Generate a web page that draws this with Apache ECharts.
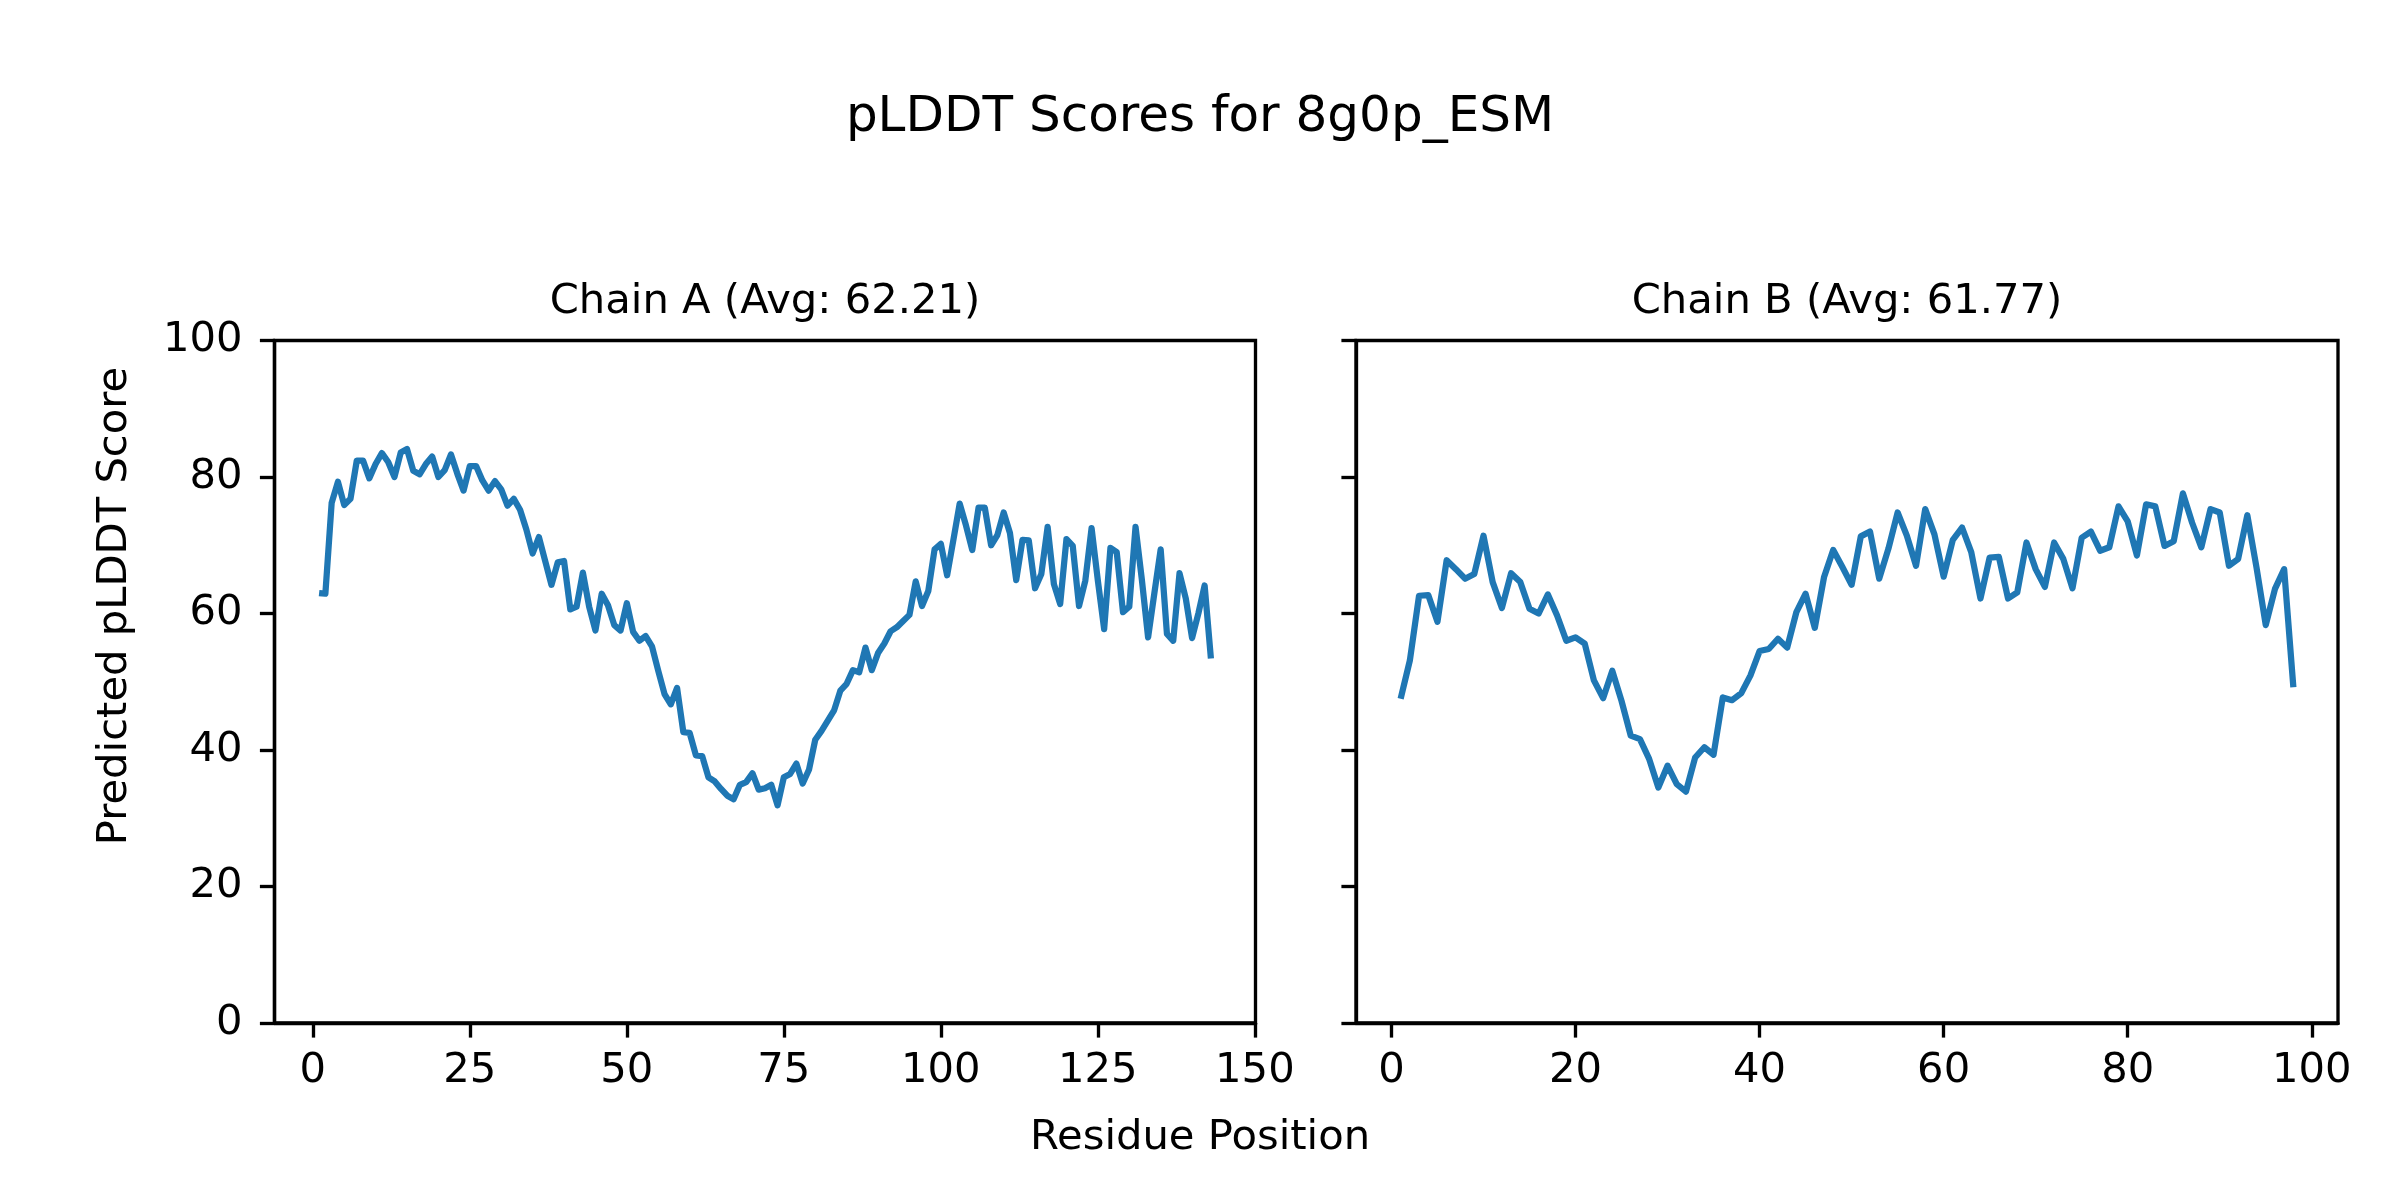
<!DOCTYPE html>
<html>
<head>
<meta charset="utf-8">
<script src="https://cdn.jsdelivr.net/npm/echarts@6/dist/echarts.min.js"></script>
<style>
html,body{margin:0;padding:0;background:#fff;}
#chart{width:2400px;height:1200px;}
</style>
</head>
<body>
<div id="chart"></div>
<script>
// ---- data ----
const chainAScores = [63.0,62.9,76.2,79.3,75.9,76.8,82.4,82.4,79.8,81.9,
 83.5,82.2,80.0,83.6,84.1,80.9,80.4,81.9,83.0,80.0,
 81.0,83.3,80.5,78.0,81.6,81.6,79.5,78.0,79.4,78.2,
 75.8,76.8,75.2,72.3,68.8,71.2,67.7,64.2,67.5,67.7,
 60.6,61.0,66.0,61.0,57.5,62.9,61.2,58.3,57.5,61.5,
 57.3,56.0,56.7,55.2,51.6,48.2,46.7,49.1,42.6,42.5,
 39.2,39.1,36.0,35.4,34.3,33.3,32.8,34.9,35.3,36.6,
 34.2,34.4,34.9,31.9,36.0,36.5,38.0,35.1,37.1,41.5,
 42.8,44.3,45.8,48.7,49.7,51.7,51.4,55.0,51.7,54.2,
 55.6,57.4,58.0,58.9,59.8,64.7,61.1,63.3,69.4,70.2,
 65.6,70.8,76.1,72.9,69.3,75.5,75.5,70.0,71.5,74.8,
 71.8,64.9,70.8,70.7,63.7,65.8,72.7,64.3,61.4,70.9,
 69.9,61.1,64.8,72.5,64.8,57.7,69.6,69.0,60.2,61.0,
 72.7,65.0,56.5,63.0,69.4,57.0,56.0,65.9,62.2,56.4,
 60.0,64.1,53.4];
const chainBScores = [47.5,53.1,62.6,62.7,58.8,67.8,66.5,65.1,65.8,71.4,
 64.6,60.8,65.9,64.6,60.7,60.0,62.8,59.7,56.0,56.5,
 55.6,50.2,47.6,51.6,47.2,42.1,41.6,38.7,34.5,37.7,
 35.0,33.9,38.9,40.4,39.3,47.7,47.3,48.3,50.9,54.5,
 54.8,56.3,55.0,60.2,62.9,57.9,65.3,69.3,66.8,64.2,
 71.3,72.0,65.1,69.5,74.8,71.4,67.0,75.3,71.6,65.4,
 70.8,72.6,69.0,62.2,68.2,68.3,62.2,63.1,70.4,66.5,
 63.9,70.4,68.0,63.7,71.1,72.0,69.2,69.7,75.7,73.5,
 68.5,76.0,75.7,69.9,70.6,77.6,73.3,69.7,75.3,74.8,
 67.0,68.0,74.4,66.7,58.3,63.6,66.5,49.2];
const chainATicks = [0,25,50,75,100,125,150];
const chainBTicks = [0,20,40,60,80,100];
const yTicks = [0,20,40,60,80,100];
const chainATitle = 'Chain A (Avg: 62.21)';
const chainBTitle = 'Chain B (Avg: 61.77)';
const mainTitle = 'pLDDT Scores for 8g0p_ESM';
const xLabel = 'Residue Position';
const yLabel = 'Predicted pLDDT Score';

const toPairs = arr => arr.map((v, i) => [i + 1, v]);
const pad = (n) => 0.05 * (n - 1);

const FONT = 'DejaVu Sans';
const FS = 41.7;
const LW = 3.33;

function xAxisCfg(gridIndex, n, ticks) {
  return {
    type: 'value', gridIndex,
    min: 1 - pad(n), max: n + pad(n),
    axisLine: {show: true, onZero: false, lineStyle: {color: '#000', width: LW}},
    axisTick: {show: true, inside: false, length: 14.6, customValues: ticks,
               lineStyle: {color: '#000', width: LW}},
    axisLabel: {show: true, customValues: ticks, margin: 27, color: '#000',
                fontFamily: FONT, fontSize: FS},
    splitLine: {show: false}
  };
}
function yAxisCfg(gridIndex, showLabels) {
  return {
    type: 'value', gridIndex, min: 0, max: 100, interval: 20,
    axisLine: {show: true, onZero: false, lineStyle: {color: '#000', width: LW}},
    axisTick: {show: true, inside: false, length: 14.6, customValues: yTicks,
               lineStyle: {color: '#000', width: LW}},
    axisLabel: {show: showLabels, customValues: yTicks, margin: 32, color: '#000',
                fontFamily: FONT, fontSize: FS},
    splitLine: {show: false}
  };
}

const chart = echarts.init(document.getElementById('chart'), null, {renderer: 'canvas'});
chart.setOption({
  backgroundColor: '#fff',
  animation: false,
  grid: [
    {left: 274.5, top: 340.5, width: 981, height: 682.5, show: true,
     borderColor: '#000', borderWidth: LW, backgroundColor: 'transparent'},
    {left: 1356, top: 340.5, width: 982, height: 682.5, show: true,
     borderColor: '#000', borderWidth: LW, backgroundColor: 'transparent'}
  ],
  xAxis: [xAxisCfg(0, chainAScores.length, chainATicks),
          xAxisCfg(1, chainBScores.length, chainBTicks)],
  yAxis: [yAxisCfg(0, true), yAxisCfg(1, false)],
  series: [
    {type: 'line', xAxisIndex: 0, yAxisIndex: 0, data: toPairs(chainAScores),
     showSymbol: false, symbol: 'none', clip: false,
     lineStyle: {color: '#1f77b4', width: 6.25, join: 'round', cap: 'butt'}},
    {type: 'line', xAxisIndex: 1, yAxisIndex: 1, data: toPairs(chainBScores),
     showSymbol: false, symbol: 'none', clip: false,
     lineStyle: {color: '#1f77b4', width: 6.25, join: 'round', cap: 'butt'}}
  ],
  graphic: [
    {type: 'text', x: 1200, y: 118, style: {text: mainTitle, fontFamily: FONT, fontSize: 50,
      fill: '#000', align: 'center', verticalAlign: 'middle'}},
    {type: 'text', x: 765, y: 302, style: {text: chainATitle, fontFamily: FONT, fontSize: FS,
      fill: '#000', align: 'center', verticalAlign: 'middle'}},
    {type: 'text', x: 1847, y: 302, style: {text: chainBTitle, fontFamily: FONT, fontSize: FS,
      fill: '#000', align: 'center', verticalAlign: 'middle'}},
    {type: 'text', x: 1200, y: 1138, style: {text: xLabel, fontFamily: FONT, fontSize: FS,
      fill: '#000', align: 'center', verticalAlign: 'middle'}},
    {type: 'text', x: 115, y: 606, rotation: Math.PI / 2, style: {text: yLabel, fontFamily: FONT,
      fontSize: FS, fill: '#000', align: 'center', verticalAlign: 'middle'}}
  ]
});
</script>
</body>
</html>
